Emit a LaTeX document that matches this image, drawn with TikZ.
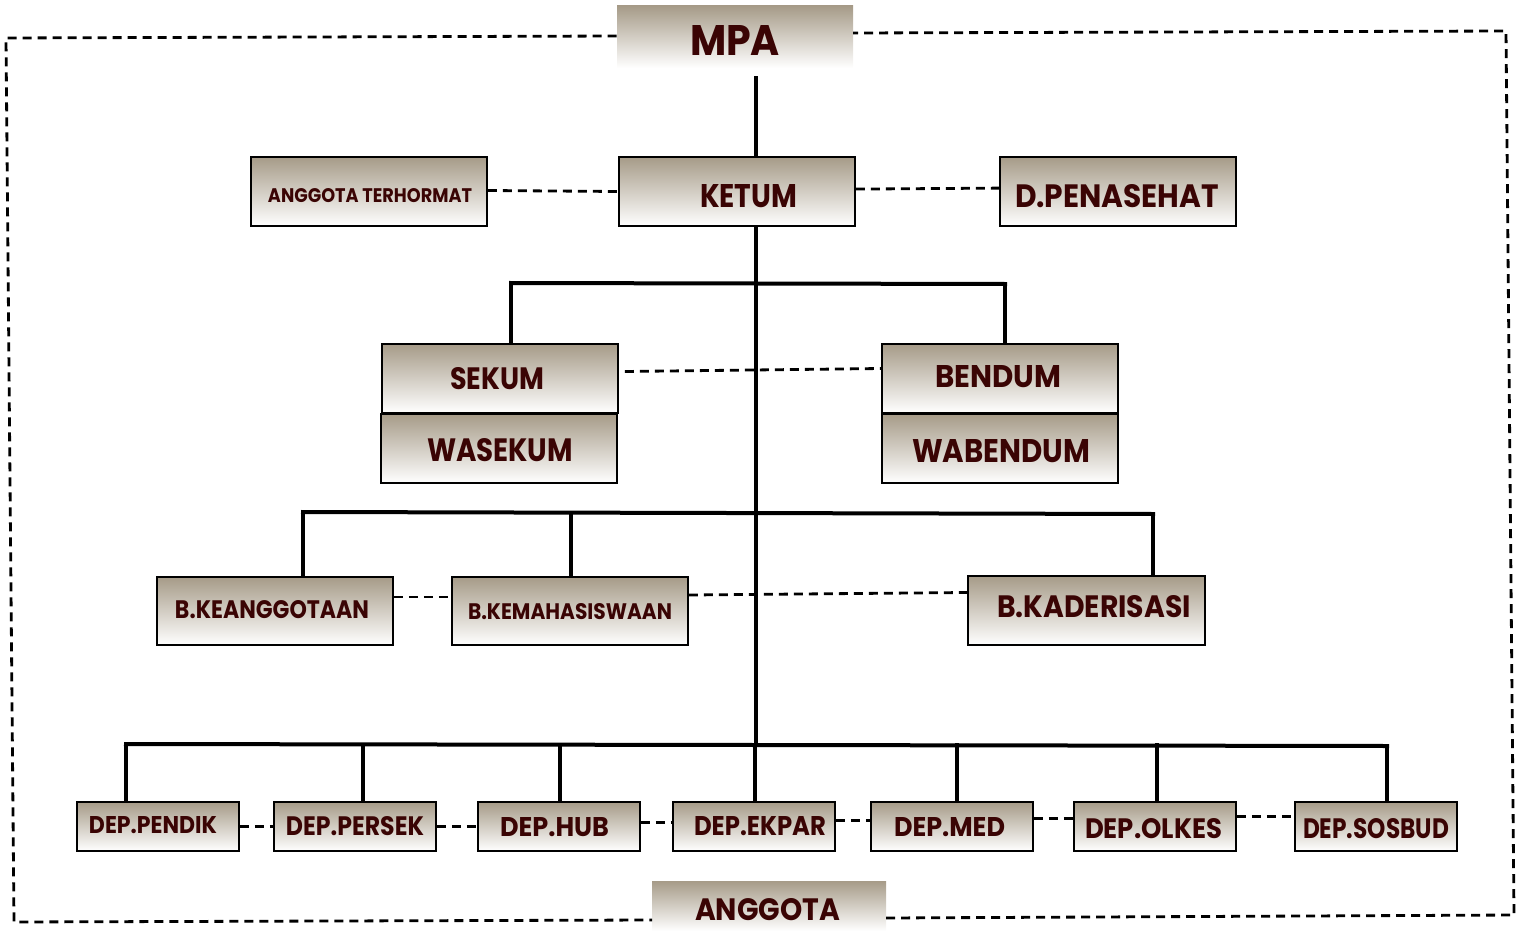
\documentclass[tikz,border=0pt]{standalone}
\usepackage{fontspec}
\setmainfont{Poppins}
\usepackage{graphicx}
\usetikzlibrary{calc}
\definecolor{txt}{RGB}{58,4,4}
\definecolor{gtop}{RGB}{166,155,136}
\definecolor{gmid}{RGB}{220,214,204}
\newcommand{\fitt}[3]{\resizebox{#1pt}{#2pt}{\bfseries #3}}
\tikzset{
  box/.style={draw=black, line width=0.8pt, inner sep=0pt, top color=gtop, middle color=gmid, bottom color=white},
  plainbox/.style={draw=none, inner sep=0pt, top color=gtop, middle color=gmid, bottom color=white},
  lbl/.style={inner sep=0pt, text=txt},
  conn/.style={line width=2pt, line cap=rect},
  dconn/.style={line width=1.4pt, dash pattern=on 4.5pt off 3pt},
}
\begin{document}
\begin{tikzpicture}[x=0.5pt, y=-0.5pt]
\useasboundingbox (0,0) rectangle (1521,931);
% boxes
\node[plainbox, minimum width=118pt, minimum height=31pt] (mpa) at (735,37) {};
\node[box, minimum width=118pt, minimum height=34.5pt] (at) at (369,191.5) {};
\node[box, minimum width=118pt, minimum height=34.5pt] (ketum) at (737,191.5) {};
\node[box, minimum width=118pt, minimum height=34.5pt] (dp) at (1118,191.5) {};
\node[box, minimum width=118pt, minimum height=34.5pt] (sekum) at (500,378.5) {};
\node[box, minimum width=118pt, minimum height=34.5pt] (wasekum) at (499,448.5) {};
\node[box, minimum width=118pt, minimum height=34.5pt] (bendum) at (1000,378.5) {};
\node[box, minimum width=118pt, minimum height=34.5pt] (wabendum) at (1000,448.5) {};
\node[box, minimum width=118pt, minimum height=34pt] (bkeang) at (275,611) {};
\node[box, minimum width=118pt, minimum height=34pt] (bkemah) at (570,611) {};
\node[box, minimum width=118.5pt, minimum height=34.5pt] (bkader) at (1086.5,610.5) {};
\node[box, minimum width=81pt, minimum height=24.5pt] (pendik) at (158,826.5) {};
\node[box, minimum width=81pt, minimum height=24.5pt] (persek) at (355,826.5) {};
\node[box, minimum width=81pt, minimum height=24.5pt] (hub) at (559,826.5) {};
\node[box, minimum width=81pt, minimum height=24.5pt] (ekpar) at (754,826.5) {};
\node[box, minimum width=81pt, minimum height=24.5pt] (med) at (952,826.5) {};
\node[box, minimum width=81pt, minimum height=24.5pt] (olkes) at (1155,826.5) {};
\node[box, minimum width=81pt, minimum height=24.5pt] (sosbud) at (1376,826.5) {};
\node[plainbox, minimum width=117pt, minimum height=25pt] (anggota) at (769,906) {};
% labels
\node[lbl] (mpa-t) at (735,41) {\fitt{45}{15}{MPA}};
\node[lbl] (at-t) at (370,196) {\fitt{102}{7}{ANGGOTA TERHORMAT}};
\node[lbl] (ketum-t) at (748.5,196) {\fitt{48.5}{11.5}{KETUM}};
\node[lbl] (dp-t) at (1117,196) {\fitt{102}{11.5}{D.PENASEHAT}};
\node[lbl] (sekum-t) at (497,378.5) {\fitt{47}{11}{SEKUM}};
\node[lbl] (wasekum-t) at (500,450) {\fitt{73}{11.5}{WASEKUM}};
\node[lbl] (bendum-t) at (998,377) {\fitt{63}{11}{BENDUM}};
\node[lbl] (wabendum-t) at (1001,451) {\fitt{89}{11.5}{WABENDUM}};
\node[lbl] (bkeang-t) at (272,610) {\fitt{97}{9}{B.KEANGGOTAAN}};
\node[lbl] (bkemah-t) at (570,611.5) {\fitt{102}{8}{B.KEMAHASISWAAN}};
\node[lbl] (bkader-t) at (1094,606.5) {\fitt{97}{11}{B.KADERISASI}};
\node[lbl] (pendik-t) at (153,825.5) {\fitt{64}{8.5}{DEP.PENDIK}};
\node[lbl] (persek-t) at (355,826) {\fitt{69}{9.5}{DEP.PERSEK}};
\node[lbl] (hub-t) at (554.5,827) {\fitt{54.5}{9.5}{DEP.HUB}};
\node[lbl] (ekpar-t) at (760,826) {\fitt{66}{9.5}{DEP.EKPAR}};
\node[lbl] (med-t) at (949.5,827) {\fitt{55.5}{9.5}{DEP.MED}};
\node[lbl] (olkes-t) at (1153.5,829) {\fitt{68.5}{10}{DEP.OLKES}};
\node[lbl] (sosbud-t) at (1376,829) {\fitt{73}{10}{DEP.SOSBUD}};
\node[lbl] (anggota-t) at (767.5,910) {\fitt{72.5}{11}{ANGGOTA}};
% junction coordinates
\coordinate (jm) at (756,78);
\coordinate (h1l) at (511,283);
\coordinate (h1r) at (1005,284);
\coordinate (h2l) at (303,512);
\coordinate (h2m) at (571,513);
\coordinate (h2r) at (1153,514);
\coordinate (h3l) at (126,744);
\coordinate (h3r) at (1387,746);
\coordinate (v1) at (363,745);
\coordinate (v2) at (560,745);
\coordinate (v3) at (755,745);
\coordinate (v4) at (957,745);
\coordinate (v5) at (1157,745);
\coordinate (tb) at (756,745);
% solid tree lines
\draw[conn] (jm) -- (ketum.north -| jm);
\draw[conn] (ketum.south -| jm) -- (tb);
\draw[conn] (h1l) -- (h1r);
\draw[conn] (h1l) -- (sekum.north -| h1l);
\draw[conn] (h1r) -- (bendum.north -| h1r);
\draw[conn] (h2l) -- (h2r);
\draw[conn] (h2l) -- (bkeang.north -| h2l);
\draw[conn] (h2m) -- (bkemah.north -| h2m);
\draw[conn] (h2r) -- (bkader.north -| h2r);
\draw[conn] (h3l) -- (h3r);
\draw[conn] (h3l) -- (pendik.north -| h3l);
\draw[conn] (v1) -- (persek.north -| v1);
\draw[conn] (v2) -- (hub.north -| v2);
\draw[conn] (v3) -- (ekpar.north -| v3);
\draw[conn] (v4) -- (med.north -| v4);
\draw[conn] (v5) -- (olkes.north -| v5);
\draw[conn] (h3r) -- (sosbud.north -| h3r);
% dashed links
\draw[dconn] ([yshift=0.5pt]at.east) -- (ketum.west);
\draw[dconn] ([yshift=1.2pt]ketum.east) -- ([yshift=1.7pt]dp.west);
\draw[dconn] ([shift={(6,-7)}]sekum.east) -- ([shift={(0,-10)}]bendum.west);
\draw[dconn] ([yshift=7pt]bkeang.east) -- ([yshift=7pt]bkemah.west);
\draw[dconn] ([yshift=8pt]bkemah.east) -- ([yshift=9pt]bkader.west);
\draw[dconn] (pendik.east) -- (persek.west);
\draw[dconn] (persek.east) -- (hub.west);
\draw[dconn] ([yshift=2pt]hub.east) -- ([yshift=2pt]ekpar.west);
\draw[dconn] ([yshift=3pt]ekpar.east) -- ([yshift=3pt]med.west);
\draw[dconn] ([yshift=4pt]med.east) -- ([yshift=4pt]olkes.west);
\draw[dconn] ([yshift=5pt]olkes.east) -- ([yshift=5pt]sosbud.west);
% outer dashed frame
\coordinate (c1) at (6,38);
\coordinate (c2) at (14,922);
\coordinate (c3) at (652,920);
\coordinate (c4) at (886,918);
\coordinate (c5) at (1514,915);
\coordinate (c6) at (1506,31);
\coordinate (c7) at (853,33);
\draw[dconn] ([yshift=0.5pt]mpa.west) -- (c1) -- (c2) -- (c3);
\draw[dconn] (c4) -- (c5) -- (c6) -- (c7);
\end{tikzpicture}
\end{document}
